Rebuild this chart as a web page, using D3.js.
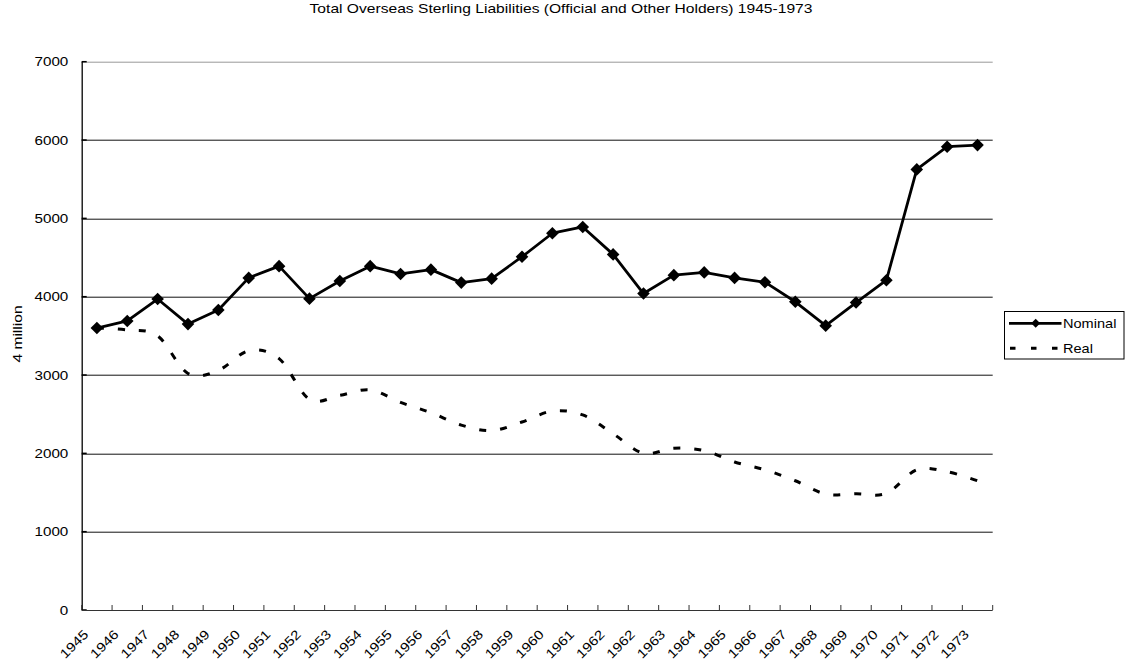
<!DOCTYPE html>
<html>
<head>
<meta charset="utf-8">
<script src="https://cdn.jsdelivr.net/npm/d3@7"></script>
<style>
  body { margin: 0; background: #fff; }
  svg { display: block; font-family: "Liberation Sans", Arial, sans-serif; }
</style>
</head>
<body>
<div id="chart"></div>
<script>
const title = "Total Overseas Sterling Liabilities (Official and Other Holders) 1945-1973";
const yLabel = "4 million";

const years = ["1945","1946","1947","1948","1949","1950","1951","1952","1953","1954",
  "1955","1956","1957","1958","1959","1960","1961","1962","1962","1963",
  "1964","1965","1966","1967","1968","1969","1970","1971","1972","1973"];

const nominal = [3600,3690,3970,3650,3830,4240,4390,3975,4200,4390,
  4290,4345,4180,4230,4510,4810,4890,4540,4040,4275,
  4310,4240,4185,3935,3630,3925,4210,5625,5915,5935];

const real = [3600,3575,3500,3020,3060,3310,3210,2690,2740,2810,
  2650,2520,2360,2290,2400,2540,2490,2250,2000,2065,
  2035,1890,1790,1650,1480,1485,1490,1790,1765,1650];

const yTicks = [0,1000,2000,3000,4000,5000,6000,7000];

const W = 1125, H = 664;
const margin = {top: 61.7, right: 132.3, bottom: 54, left: 81.7};
const width = W - margin.left - margin.right,
      height = H - margin.top - margin.bottom;
const stretch = 1.17;

const svg = d3.select("#chart").append("svg")
  .attr("width", W).attr("height", H);

const x = d3.scaleBand().domain(d3.range(years.length)).range([0, width]);
const y = d3.scaleLinear().domain([0, 7000]).range([height, 0]);

const g = svg.append("g").attr("transform", `translate(${margin.left},${margin.top})`);

// gridlines
g.selectAll(".grid").data(yTicks.filter(d => d > 0)).enter().append("line")
  .attr("x1", 0).attr("x2", width)
  .attr("y1", d => Math.round(y(d)) + 0.5).attr("y2", d => Math.round(y(d)) + 0.5)
  .attr("stroke", d => d === 7000 ? "#999" : "#111").attr("stroke-width", 1);

// y axis
g.append("line").attr("x1", 0.5).attr("x2", 0.5).attr("y1", 0).attr("y2", height)
  .attr("stroke", "#000").attr("stroke-width", 1.3);
g.selectAll(".ytick").data(yTicks).enter().append("line")
  .attr("x1", 0).attr("x2", 5)
  .attr("y1", d => y(d)).attr("y2", d => y(d))
  .attr("stroke", "#000").attr("stroke-width", 1.5);
g.selectAll(".ylab").data(yTicks).enter().append("text")
  .attr("transform", d => `translate(-13.4,${y(d)}) scale(${stretch},1)`)
  .attr("text-anchor", "end").attr("dominant-baseline", "central")
  .attr("font-size", 13).attr("fill", "#000")
  .text(d => d);

// x axis
g.append("line").attr("x1", 0).attr("x2", width).attr("y1", height + 0.5).attr("y2", height + 0.5)
  .attr("stroke", "#333").attr("stroke-width", 1.2);
g.selectAll(".xtick").data(d3.range(years.length + 1)).enter().append("line")
  .attr("x1", i => i * x.step()).attr("x2", i => i * x.step())
  .attr("y1", height).attr("y2", height - 5)
  .attr("stroke", "#333").attr("stroke-width", 1);
g.selectAll(".xlab").data(years).enter().append("text")
  .attr("transform", (d, i) => `translate(${x(i) + x.bandwidth() / 2 - 11},${height + 22}) rotate(-45) scale(${stretch},1)`)
  .attr("text-anchor", "end").attr("dominant-baseline", "central")
  .attr("font-size", 13).attr("fill", "#000")
  .text(d => d);

// lines
const cx = i => x(i) + x.bandwidth() / 2;

const realLine = d3.line().x((d, i) => cx(i)).y(d => y(d)).curve(d3.curveCardinal.tension(0));
g.append("path").datum(real).attr("d", realLine)
  .attr("fill", "none").attr("stroke", "#000").attr("stroke-width", 3)
  .attr("stroke-dasharray", "7,14");

const nomLine = d3.line().x((d, i) => cx(i)).y(d => y(d));
g.append("path").datum(nominal).attr("d", nomLine)
  .attr("fill", "none").attr("stroke", "#000").attr("stroke-width", 2.8)
  .attr("stroke-linejoin", "round");

const diamond = r => `M0,${-r}L${r},0L0,${r}L${-r},0Z`;
g.selectAll(".mark").data(nominal).enter().append("path")
  .attr("d", diamond(6.3))
  .attr("transform", (d, i) => `translate(${cx(i)},${y(d)})`)
  .attr("fill", "#000");

// title
svg.append("text")
  .attr("transform", `translate(561,9) scale(1.27,1)`)
  .attr("text-anchor", "middle").attr("dominant-baseline", "central")
  .attr("font-size", 12.3).attr("fill", "#000")
  .text(title);

// y label
svg.append("text")
  .attr("transform", `translate(17,334) rotate(-90) scale(1.2,1)`)
  .attr("text-anchor", "middle").attr("dominant-baseline", "central")
  .attr("font-size", 13).attr("fill", "#000")
  .text(yLabel);

// legend
const lg = svg.append("g");
lg.append("rect").attr("x", 1004.5).attr("y", 311.5).attr("width", 119.5).attr("height", 47.5)
  .attr("fill", "#fff").attr("stroke", "#000").attr("stroke-width", 1);
lg.append("line").attr("x1", 1009).attr("x2", 1061.5).attr("y1", 323.3).attr("y2", 323.3)
  .attr("stroke", "#000").attr("stroke-width", 2.8);
lg.append("path").attr("d", diamond(4.5)).attr("transform", "translate(1035.7,323.3)").attr("fill", "#000");
lg.append("line").attr("x1", 1010).attr("x2", 1058).attr("y1", 348.3).attr("y2", 348.3)
  .attr("stroke", "#000").attr("stroke-width", 3).attr("stroke-dasharray", "5.5,15.5");
lg.append("text").attr("transform", `translate(1063,323.5) scale(1.12,1)`)
  .attr("dominant-baseline", "central").attr("font-size", 13).attr("fill", "#000").text("Nominal");
lg.append("text").attr("transform", `translate(1063,348.5) scale(1.12,1)`)
  .attr("dominant-baseline", "central").attr("font-size", 13).attr("fill", "#000").text("Real");
</script>
</body>
</html>
